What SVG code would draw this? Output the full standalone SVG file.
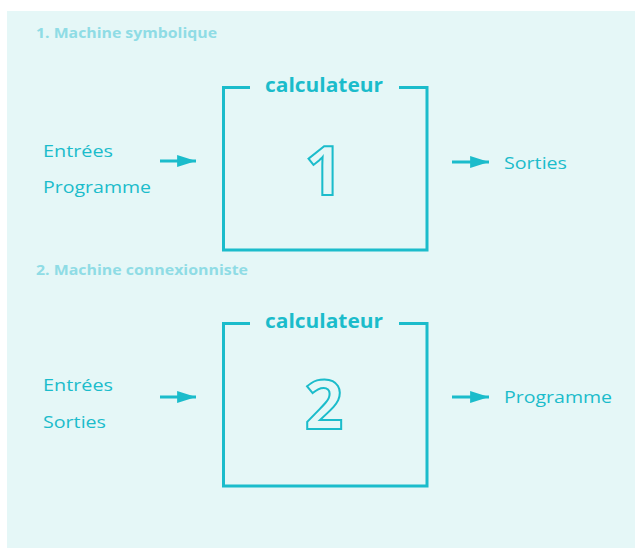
<svg xmlns="http://www.w3.org/2000/svg" width="635" height="549" viewBox="0 0 635 549">
<style>
.t{font-family:"Open Sans","Noto Sans",sans-serif;fill:#1bbccb;font-size:16.5px}
.h{font-family:"Open Sans","Noto Sans",sans-serif;fill:#8fdce5;font-size:13.5px;font-weight:bold}
.c{font-family:"Open Sans","Noto Sans",sans-serif;fill:#1bbccb;font-size:20px;font-weight:bold}
.n{font-family:"Open Sans","Noto Sans",sans-serif;fill:none;stroke:#1bbccb;stroke-width:2;font-size:68px;font-weight:bold;text-anchor:middle}
.box{fill:none;stroke:#1bbccb;stroke-width:3}
.ar{stroke:#1bbccb;stroke-width:3;fill:none}
</style>
<defs>
<marker id="ah" markerWidth="6.3" markerHeight="4" refX="6.3" refY="2" orient="auto" markerUnits="strokeWidth">
<path d="M0,0 L6.3,2 L0,4 Z" fill="#1bbccb"/>
</marker>
</defs>
<rect x="7" y="11" width="628" height="537" fill="#e5f7f7"/>
<text class="h" x="36" y="38" textLength="181" lengthAdjust="spacingAndGlyphs">1. Machine symbolique</text>
<text class="h" x="36" y="275" textLength="212" lengthAdjust="spacingAndGlyphs">2. Machine connexionniste</text>
<g id="calc1">
<path class="box" d="M250,87.5 H223.5 V250 H427 V87.5 H399"/>
<text class="c" x="265" y="92" textLength="118" lengthAdjust="spacingAndGlyphs">calculateur</text>
<text class="n" x="324" y="195">1</text>
</g>
<g id="calc2">
<path class="box" d="M250,323.5 H223.5 V486 H427 V323.5 H399"/>
<text class="c" x="265" y="328" textLength="118" lengthAdjust="spacingAndGlyphs">calculateur</text>
<text class="n" x="324" y="429">2</text>
</g>
<g id="inputs1">
<text class="t" x="43" y="157" textLength="70" lengthAdjust="spacingAndGlyphs">Entrées</text>
<text class="t" x="43" y="193" textLength="108" lengthAdjust="spacingAndGlyphs">Programme</text>
</g>
<g id="output1"><text class="t" x="504" y="169" textLength="63" lengthAdjust="spacingAndGlyphs">Sorties</text></g>
<g id="inputs2">
<text class="t" x="43" y="391" textLength="70" lengthAdjust="spacingAndGlyphs">Entrées</text>
<text class="t" x="43" y="428" textLength="63" lengthAdjust="spacingAndGlyphs">Sorties</text>
</g>
<g id="output2"><text class="t" x="504" y="403" textLength="108" lengthAdjust="spacingAndGlyphs">Programme</text></g>
<g id="connectors">
<line class="ar" x1="160" y1="161" x2="196" y2="161" marker-end="url(#ah)"/>
<line class="ar" x1="452" y1="162" x2="489" y2="162" marker-end="url(#ah)"/>
<line class="ar" x1="160" y1="397" x2="196" y2="397" marker-end="url(#ah)"/>
<line class="ar" x1="452" y1="397" x2="489" y2="397" marker-end="url(#ah)"/>
</g>
</svg>
